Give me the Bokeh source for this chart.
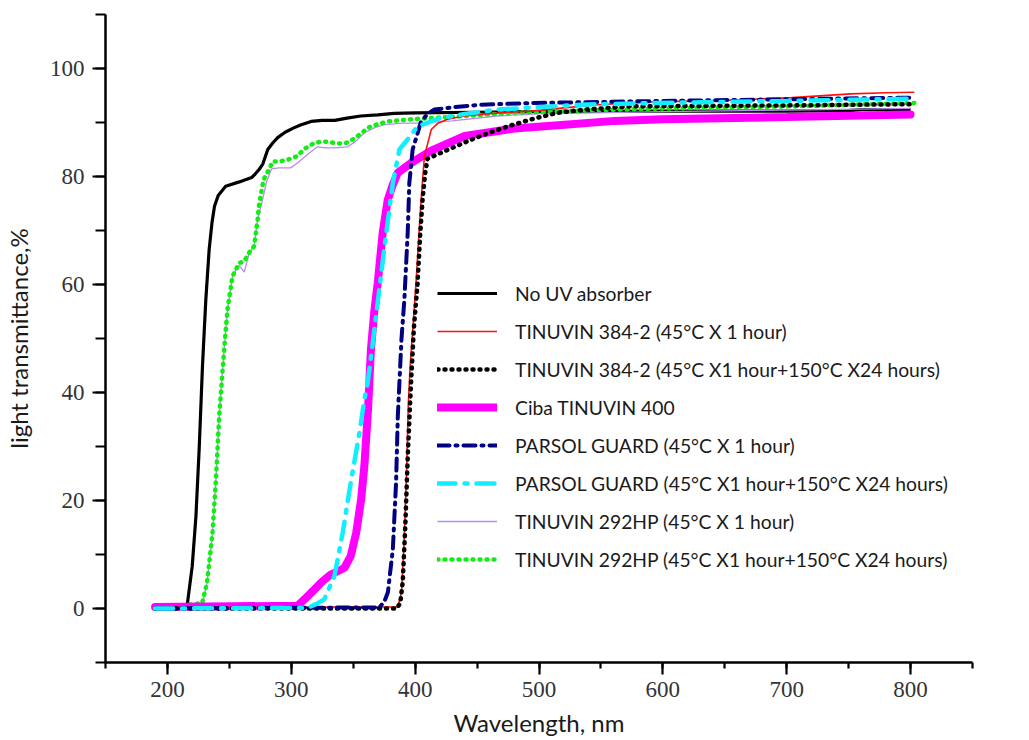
from bokeh.plotting import figure
from bokeh.models import Range1d, SingleIntervalTicker, Legend, LegendItem
from bokeh.embed import file_html
from bokeh.resources import INLINE

# ---- data (wavelength nm, transmittance %) ----
wl_no_uv = [190, 214, 216, 220, 223, 225.6, 228.3, 231, 233.7, 236, 238, 241, 247, 258, 268, 271, 274, 277,
            281, 285, 289, 295, 302, 308, 316, 325, 335, 345, 356, 370, 383, 400, 450, 500, 600, 700, 750, 760, 800]
tr_no_uv = [0.2, 0.2, 0.7, 7.8, 17, 29.4, 44.9, 57.2, 66.5, 71.5, 74.5, 76.5, 78.2, 79.0, 79.8, 80.5, 81.3, 82.3,
            85.0, 86.2, 87.2, 88.2, 89.0, 89.6, 90.2, 90.4, 90.4, 90.8, 91.2, 91.4, 91.7, 91.8, 91.9, 92.0, 92.1, 92.1, 92.2, 92.4, 92.4]

wl_t384_1h = [190, 386, 389, 391, 393, 394.5, 396, 398.5, 400.7, 403, 404.8, 407.5, 410, 413, 418, 426, 440, 453,
              475, 494, 520, 548, 590, 650, 704, 752, 780, 803]
tr_t384_1h = [0.2, 0.3, 3, 12, 25, 38, 45, 53, 60.3, 69, 75.7, 83.8, 86.0, 88.7, 89.8, 90.6, 91.2, 91.5,
              91.9, 92.1, 92.7, 93.3, 93.8, 94.1, 94.6, 95.3, 95.5, 95.6]

wl_t384_24h = [190, 385, 388, 390, 392, 394, 396.7, 399, 402, 404, 406, 408, 410, 430, 445, 458.7, 475, 494,
               515, 537, 575, 650, 720, 800]
tr_t384_24h = [0, 0, 1, 5, 15, 28, 41.8, 52, 60.3, 69, 75.7, 80.5, 83.3, 85.3, 86.8, 88.0, 89.3, 90.6,
               91.8, 92.4, 93.0, 93.1, 93.2, 93.4]

wl_t400 = [190, 305, 312, 318.6, 325, 332, 342.8, 348, 352.4, 356.4, 359, 362, 364.3, 367, 369.8, 373.8, 377.9,
           382, 386, 396.7, 413, 440, 480, 520.7, 561, 600, 700, 800]
tr_t400 = [0.3, 0.5, 2, 3.5, 5, 6.3, 7.5, 9.7, 14, 20.2, 26.4, 37, 48, 55, 60.3, 69.6, 75.7,
           78.5, 80.7, 82.5, 84.8, 87.5, 88.9, 89.6, 90.3, 90.6, 91.0, 91.5]

wl_parsol_1h = [190, 371, 375, 378, 382, 384.6, 386, 387.3, 389, 391.3, 394, 395.3, 398, 402, 404.5, 410, 415.6,
                430, 453, 493.5, 550, 600, 700, 800]
tr_parsol_1h = [0, 0.2, 1.2, 3, 11, 23.3, 35.6, 41.8, 50, 57.2, 69.6, 78.8, 85, 88, 90, 91.6, 92.4,
                92.8, 93.3, 93.6, 93.8, 94.0, 94.3, 94.6]

wl_parsol_24h = [190, 313, 320, 326.6, 334.8, 341.5, 348, 355, 359, 361.7, 368.4, 375, 382, 387.3, 394, 402,
                 420, 440, 466.8, 534, 590, 700, 800]
tr_parsol_24h = [0, 0.1, 0.8, 1.7, 6, 14, 23.3, 32.5, 38.7, 41.8, 54, 66.5, 78.8, 85, 86.9, 89.3,
                 90.8, 91.6, 92.4, 93.3, 93.6, 94.0, 94.4]

wl_t292_1h = [190, 228, 232, 236.4, 239, 241.8, 245.8, 248.5, 252.5, 256, 258, 262, 264, 266, 270, 272.8, 276.8,
              280, 284, 290, 299.5, 305, 311.6, 321, 328, 334.7, 345.5, 352, 359, 367, 375, 390, 402, 430, 466,
              500, 600, 700, 800]
tr_t292_1h = [0, 0.5, 4.8, 14, 23.3, 35.6, 48, 55.4, 61.5, 63, 63.5, 62.3, 64, 65.9, 67.1, 72, 75.7,
              79, 81.4, 81.6, 81.6, 82.5, 83.8, 85.5, 85.3, 85.3, 85.5, 86.5, 88.1, 89, 89.6, 89.9, 89.9, 90.3, 91.2,
              91.6, 92.0, 92.3, 92.6]

wl_t292_24h = [190, 228, 232, 236.4, 239, 241.8, 245.8, 248.5, 252.5, 258, 262, 266, 270, 272.8, 274, 277.6,
               282, 285, 290, 297, 305, 310.5, 317, 324, 330, 337.4, 344, 351, 358, 364, 378, 397, 440, 480, 548,
               602, 704, 803]
tr_t292_24h = [0, 1, 4.8, 14, 23.3, 35.6, 48, 55.4, 61.5, 64, 64.3, 65.9, 67.1, 72, 74.8, 79.4,
               81.3, 82.8, 82.8, 83.1, 83.8, 85.1, 86, 86.5, 86.4, 86.1, 86.2, 87, 88.3, 89.3, 90.2, 90.6, 91.2, 91.8, 92.3,
               92.6, 93.0, 93.6]

labels = [
    "No UV absorber",
    "TINUVIN 384-2 (45\u00b0C X 1 hour)",
    "TINUVIN 384-2 (45\u00b0C X1 hour+150\u00b0C X24 hours)",
    "Ciba TINUVIN 400",
    "PARSOL GUARD (45\u00b0C X 1 hour)",
    "PARSOL GUARD (45\u00b0C X1 hour+150\u00b0C X24 hours)",
    "TINUVIN 292HP (45\u00b0C X 1 hour)",
    "TINUVIN 292HP (45\u00b0C X1 hour+150\u00b0C X24 hours)",
]

p = figure(width=1029, height=740, output_backend="svg", toolbar_location=None,
           x_range=Range1d(150, 850), y_range=Range1d(-10, 110))
p.min_border_left = 105
p.min_border_right = 57
p.min_border_top = 14
p.min_border_bottom = 78
p.outline_line_color = None
p.xgrid.visible = False
p.ygrid.visible = False
p.background_fill_color = "white"
p.border_fill_color = "white"

r_black = p.line(wl_no_uv, tr_no_uv, line_color="black", line_width=3.2)
r_purple = p.line(wl_t292_1h, tr_t292_1h, line_color="#b98af2", line_width=1.3)
r_green = p.line(wl_t292_24h, tr_t292_24h, line_color="#11ee11", line_width=4.5, line_dash="1 6",
                 line_cap="round")
r_mag = p.line(wl_t400, tr_t400, line_color="#ff00ff", line_width=8, line_cap="round")
r_red = p.line(wl_t384_1h, tr_t384_1h, line_color="#ff1010", line_width=1.6)
r_bdot = p.line(wl_t384_24h, tr_t384_24h, line_color="black", line_width=4.5, line_dash="1 6",
                line_cap="round")
r_navy = p.line(wl_parsol_1h, tr_parsol_1h, line_color="#000080", line_width=4, line_dash="12 6 2 6",
                line_cap="round")
r_cyan = p.line(wl_parsol_24h, tr_parsol_24h, line_color="#11eeff", line_width=4.5, line_dash="18 9 3 9",
                line_cap="round")

rends = [r_black, r_red, r_bdot, r_mag, r_navy, r_cyan, r_purple, r_green]
legend = Legend(items=[LegendItem(label=l, renderers=[r]) for l, r in zip(labels, rends)],
                location=(332, 88), orientation="vertical")
legend.border_line_color = None
legend.background_fill_alpha = 0
legend.padding = 0
legend.margin = 0
legend.spacing = 8
legend.glyph_width = 60
legend.glyph_height = 30
legend.label_height = 30
legend.label_standoff = 18
legend.label_text_font = "Lato"
legend.label_text_font_size = "19.3px"
legend.label_text_color = "#1a1a1a"
p.add_layout(legend)

for ax in (p.xaxis[0], p.yaxis[0]):
    ax.axis_line_width = 2.5
    ax.axis_line_color = "black"
    ax.major_tick_line_width = 2.2
    ax.minor_tick_line_width = 2.2
    ax.major_tick_line_color = "black"
    ax.minor_tick_line_color = "black"
    ax.major_tick_in = 0
    ax.minor_tick_in = 0
    ax.major_label_text_font = "Liberation Serif"
    ax.major_label_text_font_size = "23px"
    ax.major_label_text_color = "#333333"
    ax.axis_label_text_font = "Lato"
    ax.axis_label_text_font_size = "24px"
    ax.axis_label_text_font_style = "normal"
    ax.axis_label_text_color = "#1a1a1a"

p.xaxis.ticker = SingleIntervalTicker(interval=100, num_minor_ticks=2)
p.yaxis.ticker = SingleIntervalTicker(interval=20, num_minor_ticks=2)
p.xaxis.major_tick_out = 12
p.xaxis.minor_tick_out = 6
p.yaxis.major_tick_out = 13
p.yaxis.minor_tick_out = 10
p.xaxis.major_label_standoff = 7
p.yaxis.major_label_standoff = 8
p.xaxis.axis_label = "Wavelength, nm"
p.yaxis.axis_label = "light transmittance,%"
p.xaxis.axis_label_standoff = 8
p.yaxis.axis_label_standoff = 14

open("out.html", "w").write(file_html(p, INLINE))
